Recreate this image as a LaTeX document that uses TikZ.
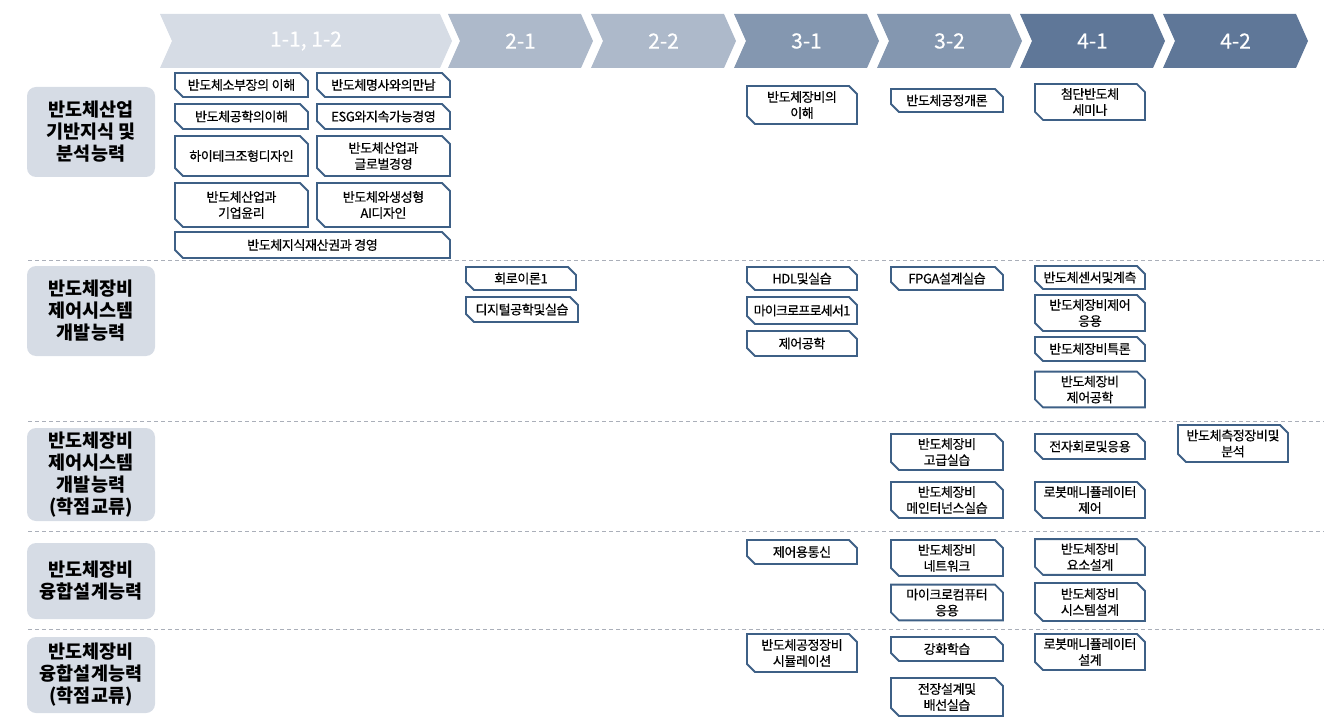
\documentclass[tikz,border=0pt]{standalone}
\usepackage{fontspec}
\setmainfont{Noto Sans CJK KR}
\newfontfamily\coursefont{Noto Sans CJK KR}[FakeBold=0.5, LetterSpace=-3]
\newfontfamily\stepfont{Noto Sans CJK KR}[FakeBold=0.4]
\usepackage{tikz}
\usetikzlibrary{shapes.misc, positioning}
\definecolor{boxblue}{RGB}{62,96,134}
\definecolor{catgray}{RGB}{214,220,229}
\definecolor{stepone}{RGB}{214,220,229}
\definecolor{steptwo}{RGB}{173,185,202}
\definecolor{stepthree}{RGB}{132,151,176}
\definecolor{stepfour}{RGB}{95,119,152}
\definecolor{sepgray}{RGB}{170,175,185}

\begin{document}
\begin{tikzpicture}[
    x=1pt, y=-1pt,
    course/.style={chamfered rectangle, chamfered rectangle corners={north east, south west},
                   chamfered rectangle xsep=4pt, chamfered rectangle ysep=4pt,
                   draw=boxblue, line width=1.8pt, fill=white, inner sep=0pt,
                   minimum width=110pt, minimum height=24pt, align=center,
                   font=\coursefont\fontsize{13}{16}\selectfont},
    wide/.style={course, minimum width=133pt},
    cat/.style={rectangle, rounded corners=9pt, fill=catgray, minimum width=128pt,
                align=center, font=\fontsize{18.5}{22}\selectfont\bfseries},
    steplbl/.style={text=white, font=\stepfont\fontsize{21}{24}\selectfont},
    sep/.style={sepgray, dashed, dash pattern=on 4pt off 3pt, line width=0.9pt}
]
\useasboundingbox (0,0) rectangle (1324,719);

% Header: semester chevrons
\fill[stepone] (160,14) -- (440,14) -- (452,41) -- (440,68) -- (160,68) -- (172,41) -- cycle;
\node[steplbl] (sem1) at (306,41) {1-1, 1-2};
\foreach \lbl/\col [count=\i from 0] in {2-1/steptwo, 2-2/steptwo, 3-1/stepthree,
                                          3-2/stepthree, 4-1/stepfour, 4-2/stepfour} {
  \fill[\col] (448+143*\i,14) -- ++(133,0) -- ++(12,27) -- ++(-12,27) -- ++(-133,0) -- ++(12,-27) -- cycle;
  \node[steplbl] (sem\lbl) at (520.5+143*\i,41) {\lbl};
}

% Row separators
\coordinate (sepA) at (28,260);
\coordinate (sepB) at (28,421);
\coordinate (sepC) at (28,531);
\coordinate (sepD) at (28,629);
\foreach \s in {sepA, sepB, sepC, sepD}
  \draw[sep] (\s) -- (\s -| 1324,0);

% Competence categories
\node[cat, minimum height=90pt] (catA) at (91,132) {반도체산업\\기반지식 및\\분석능력};
\node[cat, minimum height=90pt] (catB) at (91,311) {반도체장비\\제어시스템\\개발능력};
\node[cat, minimum height=93pt] (catC) at (91,474.5) {반도체장비\\제어시스템\\개발능력\\(학점교류)};
\node[cat, minimum height=76pt] (catD) at (91,581) {반도체장비\\융합설계능력};
\node[cat, minimum height=76pt] (catE) at (91,675) {반도체장비\\융합설계능력\\(학점교류)};

% Row A: 1-1, 1-2
\node[wide] (sobu) at (241.5,85) {반도체소부장의 이해};
\node[wide] (myeong) at (383.5,85) {반도체명사와의만남};
\node[wide, minimum height=25pt] (gonghak) at (241.5,116.5) {반도체공학의이해};
\node[wide, minimum height=25pt] (esg) at (383.5,116.5) {ESG와지속가능경영};
\node[wide, minimum height=40pt] (hitech) at (241.5,156) {하이테크조형디자인};
\node[wide, minimum height=40pt] (global) at (383.5,156) {반도체산업과\\글로벌경영};
\node[wide, minimum height=44pt] (yunri) at (241.5,205) {반도체산업과\\기업윤리};
\node[wide, minimum height=44pt] (genai) at (383.5,205) {반도체와생성형\\AI디자인};
\node[course, minimum width=275pt, minimum height=26pt] (jisik) at (312.5,245) {반도체지식재산권과 경영};
% Row A: 3-1 .. 4-1
\node[course, minimum height=38pt] (jangbiA) at (802,105) {반도체장비의\\이해};
\node[course, minimum width=112pt, minimum height=23pt] (gaeron) at (947,100.5) {반도체공정개론};
\node[course, minimum height=32pt] (seminar) at (1090,102) {첨단반도체\\세미나};

% Row B
\node[course, minimum height=23pt] (hoero) at (521,278.5) {회로이론1};
\node[course, minimum width=112pt, minimum height=25pt] (digital) at (522,309.5) {디지털공학및실습};
\node[course, minimum height=23pt] (hdl) at (802,278.5) {HDL및실습};
\node[course, minimum height=27pt, font=\coursefont\fontsize{13}{16}\selectfont\addfontfeature{LetterSpace=-6}] (micro) at (802,310.5) {마이크로프로세서1};
\node[course, minimum height=25pt] (jeeo) at (802,343.5) {제어공학};
\node[course, minimum width=112pt, minimum height=23pt] (fpga) at (947,278.5) {FPGA설계실습};
\node[course, minimum height=23pt] (sensor) at (1090,277.5) {반도체센서및계측};
\node[course, minimum height=36pt] (jeeoeung) at (1090,313) {반도체장비제어\\응용};
\node[course, minimum height=24pt] (teukron) at (1090,349) {반도체장비특론};
\node[course, minimum height=33pt] (jeeogong) at (1090,389.5) {반도체장비\\제어공학};

% Row C
\node[course, minimum width=112pt, minimum height=36pt] (gogeup) at (947,452) {반도체장비\\고급실습};
\node[course, minimum width=112pt, minimum height=36pt] (maint) at (947,500) {반도체장비\\메인터넌스실습};
\node[course, minimum height=25pt] (jeonja) at (1090,446.5) {전자회로및응용};
\node[course, minimum height=36pt] (robotjeeo) at (1090,500) {로봇매니퓰레이터\\제어};
\node[course, minimum height=37pt] (cheukjeong) at (1233,443.5) {반도체측정장비및\\분석};

% Row D
\node[course, minimum height=24pt] (tongsin) at (802,552) {제어용통신};
\node[course, minimum width=112pt, minimum height=36pt] (network) at (947,558) {반도체장비\\네트워크};
\node[course, minimum width=112pt, minimum height=35pt] (microcom) at (947,602.5) {마이크로컴퓨터\\응용};
\node[course, minimum height=34pt] (yoso) at (1090,557) {반도체장비\\요소설계};
\node[course, minimum height=38pt] (system) at (1090,602) {반도체장비\\시스템설계};

% Row E
\node[course, minimum height=38pt] (simul) at (802,653) {반도체공정장비\\시뮬레이션};
\node[course, minimum width=112pt, minimum height=24pt] (ganghwa) at (947,649) {강화학습};
\node[course, minimum width=112pt, minimum height=38pt] (jeonjang) at (947,697) {전장설계및\\배선실습};
\node[course, minimum height=36pt] (robotseol) at (1090,652) {로봇매니퓰레이터\\설계};
\end{tikzpicture}
\end{document}
